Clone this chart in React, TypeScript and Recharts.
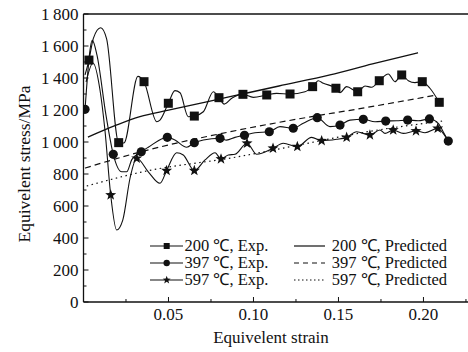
import { ComposedChart, Legend, Line, ReferenceLine, Scatter, XAxis, YAxis } from "recharts"

const FONT = '"Liberation Serif", "Times New Roman", serif'
const INK = "#111"

// [strain, stress MPa] pairs
const exp200Curve = [
  [0.0009, 1419], [0.0032, 1512], [0.0058, 1648], [0.0101, 1714], [0.0136, 1644],
  [0.0207, 996], [0.0238, 994], [0.032, 1410], [0.0356, 1377], [0.0431, 1127],
  [0.045, 1137], [0.0499, 1242], [0.0538, 1321], [0.0568, 1308], [0.0616, 1158],
  [0.0652, 1162], [0.0705, 1189], [0.0764, 1314], [0.0797, 1277], [0.0828, 1237],
  [0.0872, 1273], [0.0938, 1298], [0.0999, 1279], [0.1078, 1294], [0.1136, 1304],
  [0.1215, 1300], [0.1303, 1314], [0.1348, 1346], [0.1381, 1383], [0.1411, 1367],
  [0.1485, 1336], [0.1509, 1308], [0.1548, 1346], [0.1613, 1314], [0.1656, 1350],
  [0.1695, 1342], [0.174, 1383], [0.1793, 1425], [0.1832, 1377], [0.1872, 1419],
  [0.1911, 1383], [0.195, 1371], [0.1993, 1377], [0.2038, 1336], [0.2093, 1248],
]
const exp200Marks = [
  [0.0032, 1512], [0.0207, 996], [0.0356, 1377], [0.0499, 1242], [0.0652, 1162],
  [0.0797, 1277], [0.0938, 1298], [0.1078, 1294], [0.1215, 1300], [0.1348, 1346],
  [0.1485, 1336], [0.1613, 1314], [0.174, 1383], [0.1872, 1419], [0.1993, 1377],
  [0.2093, 1248],
]

const exp397Curve = [
  [0.0009, 1204], [0.0052, 1635], [0.0079, 1544], [0.0132, 1169], [0.0175, 923],
  [0.0225, 814], [0.0254, 814], [0.0284, 890], [0.034, 939], [0.0381, 967],
  [0.0493, 1029], [0.0538, 1012], [0.0607, 967], [0.0652, 996], [0.0705, 1012],
  [0.0803, 1023], [0.0842, 1012], [0.0891, 1029], [0.0947, 1042], [0.1009, 1058],
  [0.1093, 1064], [0.1156, 1096], [0.1234, 1086], [0.1293, 1117], [0.1375, 1152],
  [0.145, 1096], [0.1509, 1106], [0.1568, 1137], [0.1646, 1142], [0.1715, 1127],
  [0.1778, 1131], [0.1842, 1133], [0.1907, 1137], [0.1969, 1133], [0.2035, 1144],
  [0.2087, 1117], [0.2116, 1064], [0.2146, 1006],
]
const exp397Marks = [
  [0.0009, 1204], [0.0175, 923], [0.034, 939], [0.0493, 1029], [0.0652, 996],
  [0.0803, 1023], [0.0947, 1042], [0.1093, 1064], [0.1234, 1086], [0.1375, 1152],
  [0.1509, 1106], [0.1646, 1142], [0.1778, 1131], [0.1907, 1137], [0.2035, 1144],
  [0.2146, 1006],
]

const exp597Curve = [
  [0.0015, 1375], [0.0056, 1494], [0.0097, 1325], [0.0126, 1075], [0.016, 669],
  [0.0195, 450], [0.0231, 512], [0.0274, 775], [0.0313, 898], [0.0381, 814],
  [0.045, 742], [0.0489, 821], [0.0548, 933], [0.0587, 919], [0.0652, 821],
  [0.0715, 888], [0.0774, 933], [0.0809, 894], [0.0852, 919], [0.0891, 923],
  [0.0962, 992], [0.1019, 923], [0.1115, 961], [0.1175, 992], [0.1258, 971],
  [0.1342, 1029], [0.1401, 1008], [0.1489, 1017], [0.1548, 1029], [0.1607, 1064],
  [0.1685, 1044], [0.1744, 1075], [0.1774, 1054], [0.1822, 1075], [0.1881, 1054],
  [0.1956, 1069], [0.2009, 1058], [0.2084, 1085], [0.2116, 1054], [0.2146, 1006],
]
const exp597Marks = [
  [0.016, 669], [0.0313, 898], [0.0489, 821], [0.0652, 821], [0.0809, 894],
  [0.0962, 992], [0.1115, 961], [0.1258, 971], [0.1401, 1008], [0.1548, 1029],
  [0.1685, 1044], [0.1822, 1075], [0.1956, 1069], [0.2084, 1085],
]

const pred200 = [
  [0.0026, 1031], [0.01, 1065], [0.02, 1108], [0.0332, 1158], [0.05, 1199],
  [0.0862, 1283], [0.115, 1350], [0.145, 1419], [0.17, 1488], [0.1968, 1558],
]
const pred397 = [
  [0.0009, 837], [0.0332, 937], [0.0862, 1064], [0.135, 1160], [0.1556, 1196], [0.208, 1294],
]
const pred597 = [
  [0.0019, 725], [0.0332, 810], [0.0921, 910], [0.1175, 962], [0.1732, 1075], [0.2111, 1131],
]

const yTicks = [0, 100, 200, 300, 400, 500, 600, 700, 800, 900, 1000, 1100, 1200, 1300, 1400, 1500, 1600, 1700, 1800]
const xTicks = [0.025, 0.05, 0.075, 0.1, 0.125, 0.15, 0.175, 0.2, 0.225]
const xLabels = ["0.05", "0.10", "0.15", "0.20"]

const expLabels = ["200 ℃, Exp.", "397 ℃, Exp.", "597 ℃, Exp."]
const predLabels = ["200 ℃, Predicted", "397 ℃, Predicted", "597 ℃, Predicted"]

const toPoints = (pairs: number[][]) => pairs.map(([strain, stress]) => ({ strain, stress }))

function starPath(cx: number, cy: number, ro: number, ri: number) {
  let d = ""
  for (let i = 0; i < 10; i++) {
    const r = i % 2 === 0 ? ro : ri
    const a = -Math.PI / 2 + (i * Math.PI) / 5
    d += (i === 0 ? "M" : "L") + (cx + r * Math.cos(a)).toFixed(2) + "," + (cy + r * Math.sin(a)).toFixed(2)
  }
  return d + "Z"
}

const squareShape = (p: any) => <rect x={p.cx - 4.5} y={p.cy - 4.5} width={9} height={9} fill={INK} />
const circleShape = (p: any) => <circle cx={p.cx} cy={p.cy} r={4.6} fill={INK} />
const starShape = (p: any) => <path d={starPath(p.cx, p.cy, 5.8, 2.4)} fill={INK} />

// smaller versions for the legend
const legendMarks = [
  (cx: number, cy: number) => <rect x={cx - 3} y={cy - 3} width={6} height={6} fill={INK} />,
  (cx: number, cy: number) => <circle cx={cx} cy={cy} r={3.2} fill={INK} />,
  (cx: number, cy: number) => <path d={starPath(cx, cy, 4.2, 1.7)} fill={INK} />,
]

function YTick(props: any) {
  const { x, y, payload } = props
  const v: number = payload.value
  const major = v % 200 === 0
  const text = v >= 1000 ? `${Math.floor(v / 1000)}\u2009${String(v % 1000).padStart(3, "0")}` : String(v)
  return (
    <g>
      <line x1={x} x2={x + (major ? 5 : 3)} y1={y} y2={y} stroke={INK} strokeWidth={1} />
      {major && (
        <text x={x - 5} y={y + 6} textAnchor="end" fontSize={17} fontFamily={FONT} fill={INK}>
          {text}
        </text>
      )}
    </g>
  )
}

function XTick(props: any) {
  const { x, y, payload } = props
  const v: number = payload.value
  const label = xLabels.find((l) => Math.abs(parseFloat(l) - v) < 1e-6)
  return (
    <g>
      <line x1={x} x2={x} y1={y} y2={y - (label ? 5 : 3)} stroke={INK} strokeWidth={1} />
      {label && (
        <text x={x} y={y + 18} textAnchor="middle" fontSize={17} fontFamily={FONT} fill={INK}>
          {label}
        </text>
      )}
    </g>
  )
}

function LegendBox() {
  const dashes = [undefined, "5 4", "1.5 2.5"]
  return (
    <svg width={320} height={56} style={{ display: "block", overflow: "visible" }}>
      {expLabels.map((lab, i) => {
        const y = 12 + i * 17
        return (
          <g key={lab}>
            <line x1={5} x2={38} y1={y} y2={y} stroke={INK} strokeWidth={1.2} />
            {legendMarks[i](21.7, y)}
            <text x={39.5} y={y + 4.8} fontSize={16.5} fontFamily={FONT} fill={INK}>
              {lab}
            </text>
            <line x1={149} x2={180} y1={y} y2={y} stroke={INK} strokeWidth={1.2} strokeDasharray={dashes[i]} />
            <text x={186.7} y={y + 4.8} fontSize={16.5} fontFamily={FONT} fill={INK}>
              {predLabels[i]}
            </text>
          </g>
        )
      })}
    </svg>
  )
}

export default function App() {
  return (
    <div style={{ position: "absolute", left: 0, top: 0, width: 468, height: 352, background: "#fff", fontFamily: FONT }}>
      <ComposedChart width={468} height={352} margin={{ top: 14, right: 0, bottom: 0, left: 0 }}>
        <XAxis
          dataKey="strain"
          type="number"
          domain={[0, 0.2262]}
          ticks={xTicks}
          interval={0}
          allowDataOverflow
          height={50}
          tickSize={0}
          tickMargin={0}
          tick={<XTick />}
          axisLine={{ stroke: INK, strokeWidth: 1.3 }}
          label={{
            content: () => (
              <text x={271} y={343} textAnchor="middle" fontSize={17} fontFamily={FONT} fill={INK}>
                Equivelent strain
              </text>
            ),
          }}
        />
        <YAxis
          dataKey="stress"
          type="number"
          domain={[0, 1800]}
          ticks={yTicks}
          interval={0}
          allowDataOverflow
          width={83.5}
          tickSize={0}
          tickMargin={0}
          tick={<YTick />}
          axisLine={{ stroke: INK, strokeWidth: 1.3 }}
          label={{
            content: () => (
              <text x={30} y={164} transform="rotate(-90 30 164)" textAnchor="middle" fontSize={17.5} fontFamily={FONT} fill={INK}>
                Equivelent stress/MPa
              </text>
            ),
          }}
        />
        <ReferenceLine y={1800} stroke={INK} strokeWidth={1.3} />

        <Line data={toPoints(pred200)} dataKey="stress" type="monotone" stroke={INK} strokeWidth={1.3} dot={false} activeDot={false} isAnimationActive={false} />
        <Line data={toPoints(pred397)} dataKey="stress" type="monotone" stroke={INK} strokeWidth={1.2} strokeDasharray="6 4" dot={false} activeDot={false} isAnimationActive={false} />
        <Line data={toPoints(pred597)} dataKey="stress" type="monotone" stroke={INK} strokeWidth={1.2} strokeDasharray="1.5 3.5" dot={false} activeDot={false} isAnimationActive={false} />

        <Line data={toPoints(exp200Curve)} dataKey="stress" type="monotone" stroke={INK} strokeWidth={1.1} dot={false} activeDot={false} isAnimationActive={false} />
        <Line data={toPoints(exp397Curve)} dataKey="stress" type="monotone" stroke={INK} strokeWidth={1.1} dot={false} activeDot={false} isAnimationActive={false} />
        <Line data={toPoints(exp597Curve)} dataKey="stress" type="monotone" stroke={INK} strokeWidth={1.1} dot={false} activeDot={false} isAnimationActive={false} />

        <Scatter data={toPoints(exp200Marks)} dataKey="stress" shape={squareShape} isAnimationActive={false} />
        <Scatter data={toPoints(exp397Marks)} dataKey="stress" shape={circleShape} isAnimationActive={false} />
        <Scatter data={toPoints(exp597Marks)} dataKey="stress" shape={starShape} isAnimationActive={false} />

        <Legend
          layout="horizontal"
          verticalAlign="middle"
          align="center"
          content={() => <LegendBox />}
          wrapperStyle={{ left: 145, top: 234, width: 320, height: 56 }}
        />
      </ComposedChart>
    </div>
  )
}
